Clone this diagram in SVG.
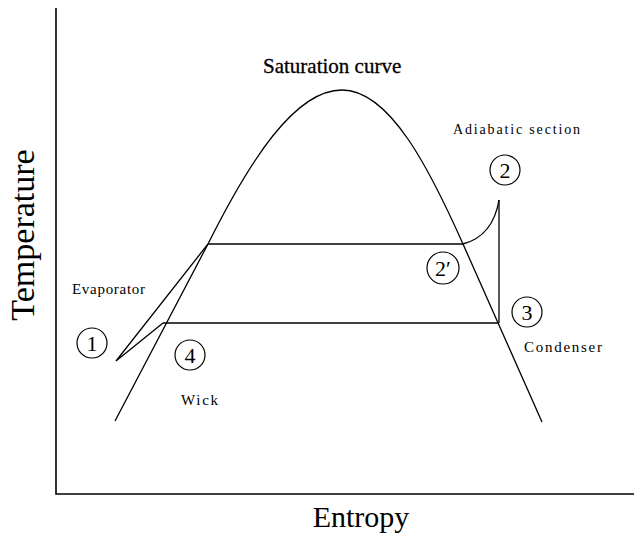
<svg xmlns="http://www.w3.org/2000/svg" width="634" height="549" viewBox="0 0 634 549">
<style>
.ln{fill:none;stroke:#000;stroke-width:1.3}
.ax{fill:none;stroke:#000;stroke-width:1.6}
.c{fill:#fff;stroke:#000;stroke-width:1.2}
.t{font-family:"Liberation Serif","Times New Roman",serif;fill:#000}
.n{font-family:"Liberation Serif","Times New Roman",serif;font-size:22px;text-anchor:middle;fill:#000}
</style>
<rect width="634" height="549" fill="#fff"/>
<g id="connectors">
<path class="ax" d="M56,8 V494 H634"/>
<path id="saturation" class="ln" d="M115,421 L208,244 C250,160 295,90 342,90 C390,90 430,170 463,244 L542,422"/>
<path class="ln" d="M208,244 H463"/>
<path class="ln" d="M163,323 H499"/>
<path class="ln" d="M499,323 V200"/>
<path class="ln" d="M463,244 Q493,236 499,200"/>
<path class="ln" d="M208,244 L116,361 L163,323"/>
</g>
<g id="labels">
<text class="t" x="263" y="73" font-size="21" stroke="#000" stroke-width="0.3">Saturation curve</text>
<text class="t" x="453" y="134" font-size="14" textLength="127" lengthAdjust="spacing">Adiabatic section</text>
<text class="t" x="72" y="294" font-size="15" textLength="73" lengthAdjust="spacing">Evaporator</text>
<text class="t" x="524" y="352" font-size="15" textLength="78" lengthAdjust="spacing">Condenser</text>
<text class="t" x="181" y="405" font-size="15" textLength="37" lengthAdjust="spacing">Wick</text>
<text class="t" x="361" y="527" font-size="30" text-anchor="middle">Entropy</text>
<text class="t" font-size="34" text-anchor="middle" transform="translate(34,235) rotate(-90)">Temperature</text>
</g>
<g id="p1"><circle class="c" cx="92" cy="343" r="15"/><text class="n" x="92" y="351">1</text></g>
<g id="p2"><circle class="c" cx="505" cy="170" r="15"/><text class="n" x="505" y="178">2</text></g>
<g id="p2p"><circle class="c" cx="443" cy="268" r="16"/><text class="n" x="443" y="276">2′</text></g>
<g id="p3"><circle class="c" cx="527" cy="312" r="15"/><text class="n" x="527" y="320">3</text></g>
<g id="p4"><circle class="c" cx="190" cy="355" r="15"/><text class="n" x="190" y="363">4</text></g>
</svg>
